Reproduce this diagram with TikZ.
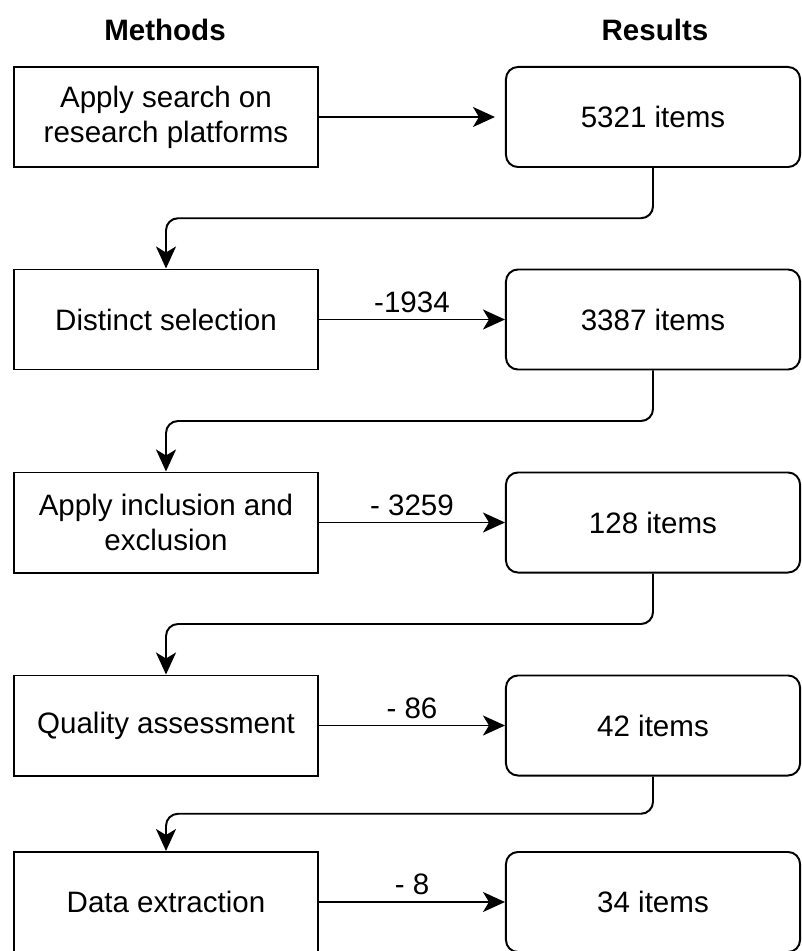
\documentclass[tikz,border=0pt]{standalone}
\usepackage{fontspec}
\setmainfont{Liberation Sans}
\usetikzlibrary{arrows.meta,calc}

\begin{document}
\begin{tikzpicture}[x=0.025cm,y=-0.025cm,
  font=\fontsize{21}{25}\selectfont,
  head/.style={font=\fontsize{21}{25}\selectfont\bfseries},
  method/.style={draw,line width=1.4pt,minimum width=7.6cm,minimum height=2.5cm,align=center,inner sep=0pt},
  result/.style={draw,line width=1.4pt,rounded corners=0.3cm,minimum width=7.35cm,minimum height=2.5cm,align=center},
  flow/.style={line width=1.4pt,-{Stealth[length=0.55cm,width=0.5cm,inset=0.15cm]}}]
\useasboundingbox (0,0) rectangle (801,951);
\node[head] (mhead) at (165,30) {Methods};
\node[head] (rhead) at (655,30) {Results};
% methods
\node[method] (m1) at (166,117) {Apply search on\\research platforms};
\node[method] (m2) at (166,319.5) {Distinct selection};
\node[method] (m3) at (166,522.5) {Apply inclusion and\\exclusion};
\node[method] (m4) at (166,725.5) {Quality assessment};
\node[method] (m5) at (166,902) {Data extraction};
% results
\node[result] (r1) at (653,117) {5321 items};
\node[result] (r2) at (653,319.5) {3387 items};
\node[result] (r3) at (653,522.5) {128 items};
\node[result] (r4) at (653,725.5) {42 items};
\node[result] (r5) at (653,902) {34 items};
\draw[flow,shorten >=0.25cm] (m1.east) -- (r1.west);
\draw[flow] (m2.east) -- node[above,yshift=1pt] {-1934} (r2.west);
\draw[flow] (m3.east) -- node[above,yshift=1pt] {- 3259} (r3.west);
\draw[flow] (m4.east) -- node[above,yshift=1pt] {- 86} (r4.west);
\draw[flow] (m5.east) -- node[above,yshift=1pt] {- 8} (r5.west);
% down to next method
\draw[flow,rounded corners=0.3cm] (r1.south) |- ($(r1.south)!.5!(m2.north)$) -| (m2.north);
\draw[flow,rounded corners=0.3cm] (r2.south) |- ($(r2.south)!.5!(m3.north)$) -| (m3.north);
\draw[flow,rounded corners=0.3cm] (r3.south) |- ($(r3.south)!.5!(m4.north)$) -| (m4.north);
\draw[flow,rounded corners=0.3cm] (r4.south) |- ($(r4.south)!.5!(m5.north)$) -| (m5.north);
\end{tikzpicture}
\end{document}
